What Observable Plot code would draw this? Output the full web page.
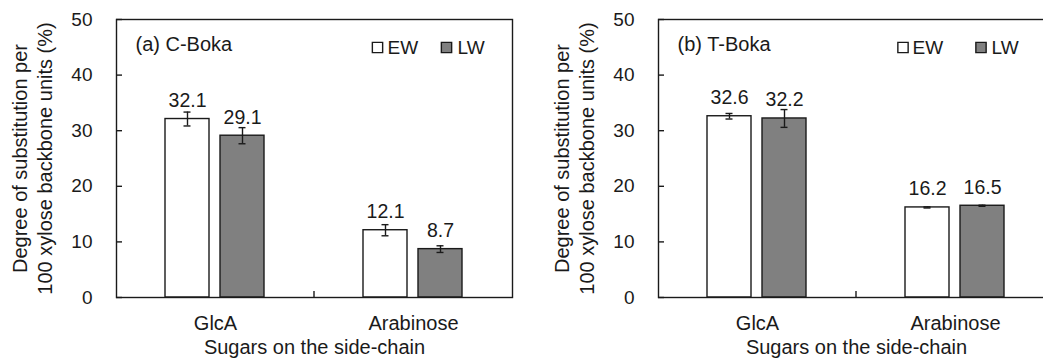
<!DOCTYPE html>
<html><head><meta charset="utf-8">
<script src="https://cdn.jsdelivr.net/npm/d3@7"></script>
<script src="https://cdn.jsdelivr.net/npm/@observablehq/plot@0.6"></script>
<style>
html,body{margin:0;padding:0;background:#fff;overflow:hidden}
#wrap{display:flex;width:1043px;height:360px;overflow:hidden}
#wrap svg{flex:none;display:block}
</style></head><body><div id="wrap"></div>
<script>
const categories = ["GlcA", "Arabinose"];
const series = ["EW", "LW"];
const yTicks = [0, 10, 20, 30, 40, 50];
const cBokaEW = [32.1, 12.1];
const cBokaLW = [29.1, 8.7];
const cBokaEWErr = [1.25, 1.0];
const cBokaLWErr = [1.45, 0.6];
const tBokaEW = [32.6, 16.2];
const tBokaLW = [32.2, 16.5];
const tBokaEWErr = [0.5, 0.1];
const tBokaLWErr = [1.6, 0.1];
const panelLabels = ["(a) C-Boka", "(b) T-Boka"];
const xTitle = "Sugars on the side-chain";
const yTitle = "Degree of substitution per\n100 xylose backbone units (%)";
const seriesColors = ["#ffffff", "#808080"];

function rows(ew, lw, ewE, lwE) {
  const out = [];
  categories.forEach((c, i) => {
    out.push({cat: c, series: series[0], value: ew[i], err: ewE[i]});
    out.push({cat: c, series: series[1], value: lw[i], err: lwE[i]});
  });
  return out;
}

function panel(label, data, leg) {
  const ink = "#1a1a1a";
  const sw = 1.4;
  const first = [{cat: categories[0]}];
  const last = [{cat: categories[categories.length - 1]}];
  const chart = Plot.plot({
    width: 521, height: 360,
    marginLeft: 115, marginRight: 9, marginTop: 19, marginBottom: 63,
    style: {fontFamily: "'Liberation Sans', Arial, sans-serif", fontSize: "19px", color: ink, background: "#fff", overflow: "visible"},
    fx: {domain: categories, padding: 0},
    x: {domain: series, paddingInner: 0.196, paddingOuter: 0.87, axis: null},
    y: {domain: [0, 50]},
    color: {domain: series, range: seriesColors},
    marks: [
      Plot.barY(data, {fx: "cat", x: "series", y: "value", fill: "series", stroke: ink, strokeWidth: sw}),
      Plot.ruleX(data, {fx: "cat", x: "series", y1: d => d.value - d.err, y2: d => d.value + d.err, stroke: ink, strokeWidth: sw}),
      Plot.tickY(data, {fx: "cat", x: "series", y: d => d.value + d.err, insetLeft: 18.5, insetRight: 18.5, stroke: ink, strokeWidth: sw}),
      Plot.tickY(data, {fx: "cat", x: "series", y: d => d.value - d.err, insetLeft: 18.5, insetRight: 18.5, stroke: ink, strokeWidth: sw}),
      Plot.text(data, {fx: "cat", x: "series", y: "value", text: d => d.value.toFixed(1), lineAnchor: "bottom", dy: -12, fontSize: 19.5, fill: ink}),
      Plot.frame({facet: "super", stroke: ink, strokeWidth: sw}),
      Plot.axisY({ticks: yTicks, tickSize: 0, tickPadding: 24, label: null, fontSize: 19}),
      Plot.axisY({ticks: yTicks, tickSize: 6, dx: 6, tickFormat: () => "", label: null, stroke: ink, strokeWidth: sw}),
      Plot.axisFx({anchor: "bottom", tickSize: 0, tickPadding: 18, fontSize: 20, label: xTitle, labelAnchor: "center", labelOffset: 56}),
      Plot.text(first, {fx: "cat", frameAnchor: "left", text: () => yTitle, rotate: -90, textAnchor: "middle", dx: -85, lineAnchor: "middle", lineHeight: 1.25, fontSize: 20, fill: ink}),
      Plot.text(first, {fx: "cat", frameAnchor: "top-left", text: () => label, textAnchor: "start", lineAnchor: "bottom", dx: 19, dy: 31, fontSize: 20, fill: ink}),
      Plot.dot(last, {fx: "cat", frameAnchor: "top-right", symbol: "square", r: 5.8, dx: leg[0], dy: 28, fill: seriesColors[0], stroke: ink, strokeWidth: sw}),
      Plot.text(last, {fx: "cat", frameAnchor: "top-right", text: () => series[0], textAnchor: "start", lineAnchor: "bottom", dx: leg[1], dy: 34, fontSize: 19, fill: ink}),
      Plot.dot(last, {fx: "cat", frameAnchor: "top-right", symbol: "square", r: 5.8, dx: leg[2], dy: 28, fill: seriesColors[1], stroke: ink, strokeWidth: sw}),
      Plot.text(last, {fx: "cat", frameAnchor: "top-right", text: () => series[1], textAnchor: "start", lineAnchor: "bottom", dx: leg[3], dy: 34, fontSize: 19, fill: ink})
    ]
  });
  // boundary tick between the two categories, placed from the library's scales
  const fx = chart.scale("fx"), y = chart.scale("y");
  const svg = chart.tagName.toLowerCase() === "svg" ? chart : chart.querySelector("svg");
  categories.slice(1).forEach(c => {
    const xb = fx.apply(c);
    d3.select(svg).append("line")
      .attr("x1", xb).attr("x2", xb)
      .attr("y1", y.apply(0)).attr("y2", y.apply(0) - 6)
      .attr("stroke", ink).attr("stroke-width", sw);
  });
  return chart;
}

const wrap = document.getElementById("wrap");
const a = panel(panelLabels[0], rows(cBokaEW, cBokaLW, cBokaEWErr, cBokaLWErr), [-135, -125, -66, -55]);
const b = panel(panelLabels[1], rows(tBokaEW, tBokaLW, tBokaEWErr, tBokaLWErr), [-151.5, -142, -73.5, -63]);
b.style.marginLeft = "21px";
wrap.appendChild(a);
wrap.appendChild(b);
</script>
</body></html>
